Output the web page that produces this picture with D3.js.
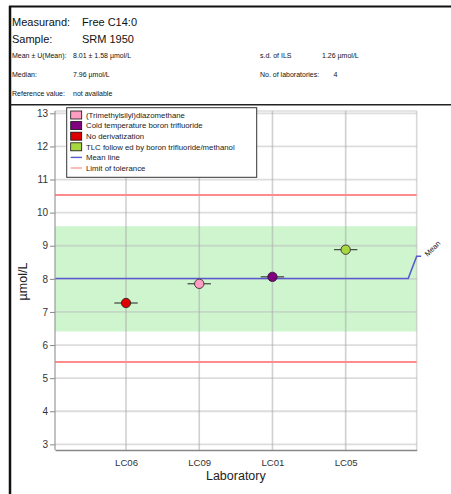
<!DOCTYPE html>
<html><head><meta charset="utf-8">
<script src="https://cdn.jsdelivr.net/npm/d3@7"></script>
<style>
html,body{margin:0;padding:0;background:#fff;}
svg{display:block;font-family:"Liberation Sans",Arial,sans-serif;}
</style></head>
<body>
<svg id="chart" width="451" height="494"></svg>
<script>
// ---- data ----
const labs = ["LC06", "LC09", "LC01", "LC05"];
const labValues = [7.27, 7.85, 8.06, 8.88];
const labMethods = ["No derivatization", "(Trimethylsilyl)diazomethane", "Cold temperature boron trifluoride", "TLC follow ed by boron trifluoride/methanol"];
const methodNames = ["(Trimethylsilyl)diazomethane", "Cold temperature boron trifluoride", "No derivatization", "TLC follow ed by boron trifluoride/methanol"];
const methodColors = ["#ff9ec2", "#800080", "#dd0000", "#a8d840"];
const yTicks = [3, 4, 5, 6, 7, 8, 9, 10, 11, 12, 13];
const meanValue = 8.01;
const bandRange = [6.41, 9.59];
const toleranceLimits = [5.49, 10.53];
const headerLarge = [["Measurand:", "Free C14:0"], ["Sample:", "SRM 1950"]];
const headerSmall = [["Mean ± U(Mean):", "8.01 ± 1.58 µmol/L", "s.d. of ILS", "1.26 µmol/L"],
                     ["Median:", "7.96 µmol/L", "No. of laboratories:", "4"],
                     ["Reference value:", "not available", "", ""]];

(function () {
const svg = d3.select("#chart");

// ---- frame ----
svg.append("line").attr("x1", 9).attr("x2", 451).attr("y1", 6.5).attr("y2", 6.5).attr("stroke", "#111").attr("stroke-width", 2);
svg.append("line").attr("x1", 10).attr("x2", 10).attr("y1", 6).attr("y2", 494).attr("stroke", "#111").attr("stroke-width", 2.5);
svg.append("line").attr("x1", 10).attr("x2", 451).attr("y1", 104.8).attr("y2", 104.8).attr("stroke", "#222").attr("stroke-width", 1.5);

// ---- header ----
const hl = svg.append("g").attr("font-size", 11).attr("fill", "#111");
headerLarge.forEach((r, i) => {
  const yy = 25.5 + i * 17;
  hl.append("text").attr("x", 12).attr("y", yy).text(r[0]);
  hl.append("text").attr("x", 82).attr("y", yy).text(r[1]);
});
const hs = svg.append("g").attr("font-size", 7).attr("fill", "#111");
headerSmall.forEach((r, i) => {
  const yy = 57.5 + i * 19.2;
  hs.append("text").attr("x", 12).attr("y", yy).text(r[0]);
  hs.append("text").attr("x", 73).attr("y", yy).text(r[1]);
  if (r[2]) hs.append("text").attr("x", 260).attr("y", yy).text(r[2]);
  if (r[3]) hs.append("text").attr("x", i === 0 ? 322 : 333.5).attr("y", yy).text(r[3]);
});

// ---- scales ----
const pL = 55, pR = 416.7, pT = 111, pB = 450;
const x = d3.scaleLinear().domain([0.03, 4.97]).range([pL, pR]);
const y = d3.scaleLinear().domain([2.83, 13.07]).range([pB, pT]);
const pos = labs.map((d, i) => i + 1);

const plot = svg.append("g");

// band
plot.append("rect").attr("x", pL).attr("width", pR - pL)
  .attr("y", y(bandRange[1])).attr("height", y(bandRange[0]) - y(bandRange[1]))
  .attr("fill", "#cff5cf");

// horizontal grid
plot.selectAll("line.hg").data(yTicks).join("line").attr("class", "hg")
  .attr("x1", pL).attr("x2", pR).attr("y1", d => y(d)).attr("y2", d => y(d))
  .attr("stroke", "#bbb").attr("stroke-opacity", 0.5).attr("stroke-width", 1.8);
plot.append("line").attr("x1", pL).attr("x2", pR).attr("y1", pT).attr("y2", pT)
  .attr("stroke", "#bbb").attr("stroke-opacity", 0.5).attr("stroke-width", 1.5);
// vertical grid
plot.selectAll("line.vg").data(pos).join("line").attr("class", "vg")
  .attr("x1", d => x(d)).attr("x2", d => x(d)).attr("y1", pT).attr("y2", pB)
  .attr("stroke", "#aaa").attr("stroke-opacity", 0.55).attr("stroke-width", 1.6);
plot.append("line").attr("x1", pR).attr("x2", pR).attr("y1", pT).attr("y2", pB)
  .attr("stroke", "#aaa").attr("stroke-opacity", 0.45).attr("stroke-width", 1.6);

// tolerance lines
plot.selectAll("line.tol").data(toleranceLimits).join("line").attr("class", "tol")
  .attr("x1", pL).attr("x2", pR).attr("y1", d => y(d)).attr("y2", d => y(d))
  .attr("stroke", "#ff8c8c").attr("stroke-width", 2);

// mean line with label connector
const ym = y(meanValue);
plot.append("path")
  .attr("d", `M${pL},${ym}H${pR - 8.5}L${pR},${ym - 22.3}H${pR + 4.5}`)
  .attr("fill", "none").attr("stroke", "#5a5ad0").attr("stroke-width", 1.6);
plot.append("text").attr("transform", `translate(${pR + 11},${ym - 21.5}) rotate(-45)`)
  .attr("font-size", 7.5).attr("fill", "#222").text("Mean");

// axes
const yAxis = d3.axisLeft(y).tickValues(yTicks).tickSize(5).tickPadding(2).tickFormat(d3.format("d"));
const ga = svg.append("g").attr("transform", `translate(${pL},0)`).call(yAxis);
ga.select(".domain").attr("stroke", "#999").attr("stroke-width", 1.2).attr("d", `M0,${pT}V${pB}`);
ga.selectAll(".tick line").attr("stroke", "#888");
ga.selectAll(".tick text").attr("font-size", 10).attr("fill", "#333").attr("font-family", "Liberation Sans, Arial, sans-serif");

const xAxis = d3.axisBottom(x).tickValues(pos).tickSize(0).tickPadding(9).tickFormat((d, i) => labs[i]);
const gx = svg.append("g").attr("transform", `translate(0,${pB})`).call(xAxis);
gx.select(".domain").attr("stroke", "#888").attr("stroke-width", 1.5);
gx.selectAll(".tick text").attr("font-size", 9.6).attr("fill", "#333").attr("font-family", "Liberation Sans, Arial, sans-serif");

svg.append("text").attr("x", (pL + pR) / 2).attr("y", 479.5).attr("text-anchor", "middle")
  .attr("font-size", 12.5).attr("fill", "#222").text("Laboratory");
svg.append("text").attr("transform", `translate(26.5,${(pT + pB) / 2 + 1}) rotate(-90)`)
  .attr("text-anchor", "middle").attr("font-size", 12.5).attr("fill", "#222").text("µmol/L");

// points
const pts = plot.selectAll("g.pt").data(labs.map((l, i) => ({ lab: l, p: pos[i], v: labValues[i], m: labMethods[i] })))
  .join("g").attr("class", "pt");
pts.append("line").attr("x1", d => x(d.p) - 11.7).attr("x2", d => x(d.p) + 11.7)
  .attr("y1", d => y(d.v)).attr("y2", d => y(d.v)).attr("stroke", "#222").attr("stroke-width", 1);
pts.append("circle").attr("cx", d => x(d.p)).attr("cy", d => y(d.v)).attr("r", 4.7)
  .attr("fill", d => methodColors[methodNames.indexOf(d.m)]).attr("stroke", "#222").attr("stroke-width", 0.8);

// legend
const lg = svg.append("g");
lg.append("rect").attr("x", 66.7).attr("y", 107.7).attr("width", 190).attr("height", 69.6)
  .attr("fill", "#fff").attr("stroke", "#333").attr("stroke-width", 1);
const rowY = i => 115 + i * 10.6;
methodNames.forEach((m, i) => {
  lg.append("rect").attr("x", 70.7).attr("y", rowY(i) - 4).attr("width", 11).attr("height", 8)
    .attr("fill", methodColors[i]).attr("stroke", "#111").attr("stroke-width", 0.8);
  lg.append("text").attr("x", 86).attr("y", rowY(i) + 2.8).attr("font-size", 7.8).attr("fill", "#222").text(m);
});
const lineItems = [["Mean line", "#5a5ad0"], ["Limit of tolerance", "#ff9c9c"]];
lineItems.forEach((it, j) => {
  const yy = rowY(4 + j);
  lg.append("line").attr("x1", 70.7).attr("x2", 82).attr("y1", yy).attr("y2", yy).attr("stroke", it[1]).attr("stroke-width", 1.4);
  lg.append("text").attr("x", 86).attr("y", yy + 2.8).attr("font-size", 7.8).attr("fill", "#222").text(it[0]);
});
})();
</script>
</body></html>
